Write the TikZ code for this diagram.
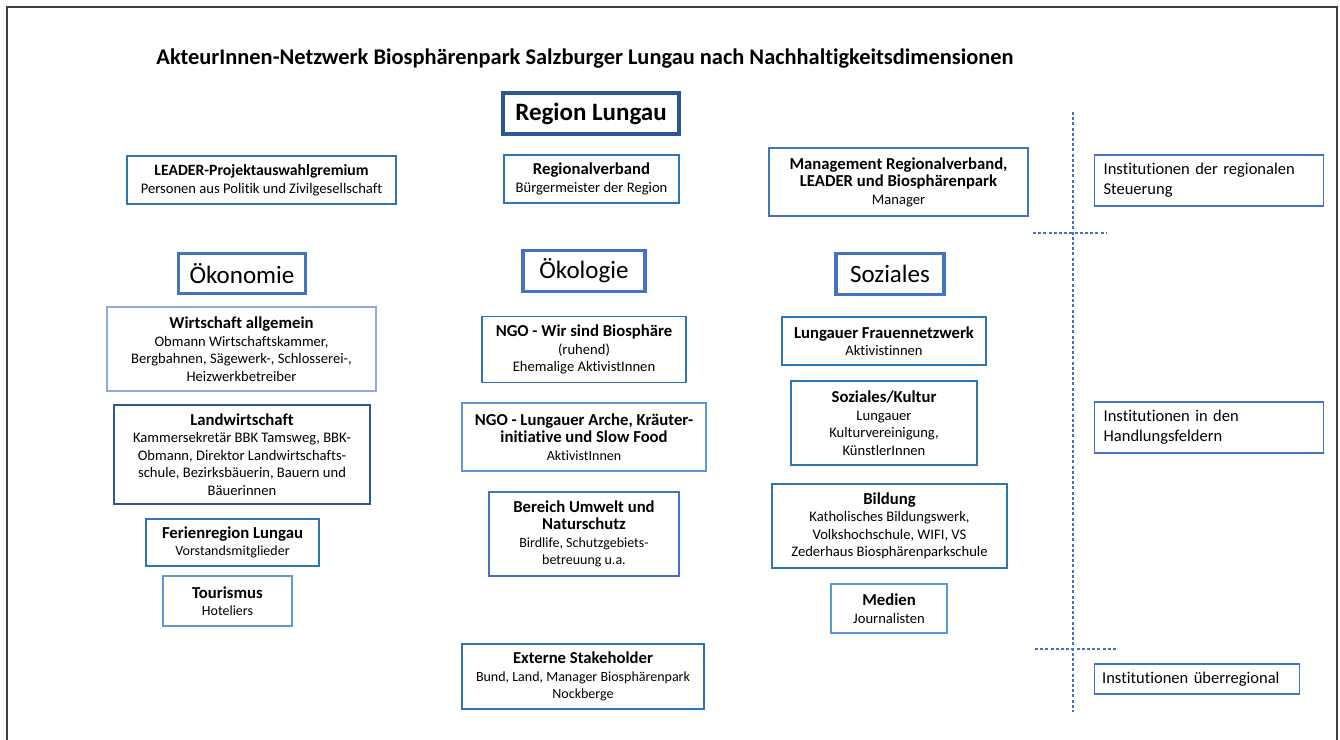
\documentclass[tikz,border=0pt]{standalone}
\usepackage{fontspec}
\setmainfont[Ligatures={NoCommon}]{Carlito}
\definecolor{darkblue}{HTML}{2F5597}
\definecolor{midblue}{HTML}{4472C4}
\definecolor{lightblue}{HTML}{5B9BD5}
\definecolor{skyblue}{HTML}{2E75B6}
\definecolor{paleblue}{HTML}{8FAADC}
\definecolor{framegray}{HTML}{404040}
\newcommand\hd[1]{{\fontsize{16.7}{19}\selectfont\bfseries #1}}
\tikzset{
  box/.style={draw=skyblue, line width=1.3pt, align=center, inner sep=2pt,
    font=\fontsize{14.6}{17.5}\selectfont},
  sbody/.style={font=\fontsize{14}{17.5}\selectfont},
  dimbox/.style={draw=midblue, line width=3.5pt, inner sep=0pt,
    font=\fontsize{25}{28}\selectfont},
  regbox/.style={draw=darkblue, line width=4pt, inner sep=0pt,
    font=\fontsize{25}{28}\selectfont\bfseries},
  instbox/.style={draw=midblue, line width=1.3pt, align=left, inner xsep=8pt,
    anchor=west, text width=210pt, font=\fontsize{16.5}{20}\selectfont},
  sep/.style={draw=midblue, line width=1.2pt, dash pattern=on 3pt off 2.2pt},
}
\begin{document}
\begin{tikzpicture}[x=1pt,y=-1pt]
\useasboundingbox (0,0) rectangle (1340,739);
\fill[white] (0,0) rectangle (1340,739);
\draw[framegray, line width=1.5pt] (7,745) -- (7,7) -- (1337,7) -- (1337,745);

% title
\node[font=\fontsize{22.4}{26}\selectfont\bfseries] (title) at (585,59)
  {AkteurInnen-Netzwerk Biosphärenpark Salzburger Lungau nach Nachhaltigkeitsdimensionen};

% regional steering
\node[regbox, minimum width=176pt, minimum height=41pt] (region) at (591,113.5) {Region Lungau};
\node[box, minimum width=269pt, minimum height=48pt] (leader) at (261.5,180)
  {{\fontsize{15.7}{19}\selectfont\bfseries LEADER-Projektauswahlgremium}\\Personen aus Politik und Zivilgesellschaft};
\node[box, minimum width=175pt, minimum height=48pt] (regverb) at (591.5,179)
  {\hd{Regionalverband}\\Bürgermeister der Region};
\node[box, draw=midblue, minimum width=259pt, minimum height=68pt] (mgmt) at (898.5,182)
  {\hd{Management Regionalverband,}\\\hd{LEADER und Biosphärenpark}\\Manager};

% dimensions
\node[dimbox, minimum width=127pt, minimum height=40pt] (oekon) at (242,273.5) {Ökonomie};
\node[dimbox, minimum width=122pt, minimum height=41pt] (oekol) at (584,271) {Ökologie};
\node[dimbox, minimum width=108pt, minimum height=41pt] (sozial) at (890,274) {Soziales};

% Oekonomie
\node[box, draw=paleblue, minimum width=269pt, minimum height=84pt] (wirt) at (241.5,349)
  {\hd{Wirtschaft allgemein}\\Obmann Wirtschaftskammer,\\Bergbahnen, Sägewerk-, Schlosserei-,\\Heizwerkbetreiber};
\node[box, draw=darkblue, minimum width=256pt, minimum height=99pt] (land) at (242,454.5)
  {\hd{Landwirtschaft}\\Kammersekretär BBK Tamsweg, BBK-\\Obmann, Direktor Landwirtschafts-\\schule, Bezirksbäuerin, Bauern und\\Bäuerinnen};
\node[box, sbody, minimum width=173pt, minimum height=47pt] (ferien) at (232.5,542.5)
  {\hd{Ferienregion Lungau}\\Vorstandsmitglieder};
\node[box, sbody, draw=lightblue, minimum width=129pt, minimum height=50pt] (tour) at (227.5,601)
  {\hd{Tourismus}\\Hoteliers};

% Oekologie
\node[box, minimum width=204pt, minimum height=66pt] (ngo1) at (584,349.5)
  {\hd{NGO - Wir sind Biosphäre}\\(ruhend)\\Ehemalige AktivistInnen};
\node[box, sbody, draw=lightblue, minimum width=244pt, minimum height=68pt] (ngo2) at (584,437)
  {\hd{NGO - Lungauer Arche, Kräuter-}\\\hd{initiative und Slow Food}\\AktivistInnen};
\node[box, sbody, draw=midblue, minimum width=190pt, minimum height=84pt] (umwelt) at (584,534)
  {\hd{Bereich Umwelt und}\\\hd{Naturschutz}\\Birdlife, Schutzgebiets-\\betreuung u.a.};

% Soziales
\node[box, minimum width=204pt, minimum height=48pt] (frauen) at (884,341)
  {\hd{Lungauer Frauennetzwerk}\\Aktivistinnen};
\node[box, minimum width=186pt, minimum height=84pt] (kultur) at (884,423)
  {\hd{Soziales/Kultur}\\Lungauer\\Kulturvereinigung,\\KünstlerInnen};
\node[box, minimum width=235pt, minimum height=84pt] (bildung) at (889.5,526)
  {\hd{Bildung}\\Katholisches Bildungswerk,\\Volkshochschule, WIFI, VS\\Zederhaus Biosphärenparkschule};
\node[box, draw=lightblue, minimum width=116pt, minimum height=49pt] (medien) at (889,608.5)
  {\hd{Medien}\\Journalisten};

% extern
\node[box, sbody, minimum width=242pt, minimum height=65pt] (extern) at (583,676.5)
  {\hd{Externe Stakeholder}\\Bund, Land, Manager Biosphärenpark\\Nockberge};

% right column
\node[instbox, minimum width=229pt, minimum height=51pt] (inst1) at (1093.5,180.5)
  {Institutionen der regionalen\\Steuerung};
\node[instbox, minimum width=229pt, minimum height=51pt] (inst2) at (1093.5,427.5)
  {Institutionen in den\\Handlungsfeldern};
\node[instbox, text width=189pt, minimum width=205pt, minimum height=30pt] (inst3) at (1093.5,679)
  {Institutionen überregional};

% separators
\coordinate (vtop) at (1073,112);
\coordinate (vbot) at (1073,712);
\coordinate (h1a) at (1033,233);
\coordinate (h1b) at (1107,233);
\coordinate (h2a) at (1035,649);
\coordinate (h2b) at (1117,649);
\draw[sep] (vtop) -- (vbot);
\draw[sep] (h1a) -- (h1b);
\draw[sep] (h2a) -- (h2b);
\end{tikzpicture}
\end{document}
